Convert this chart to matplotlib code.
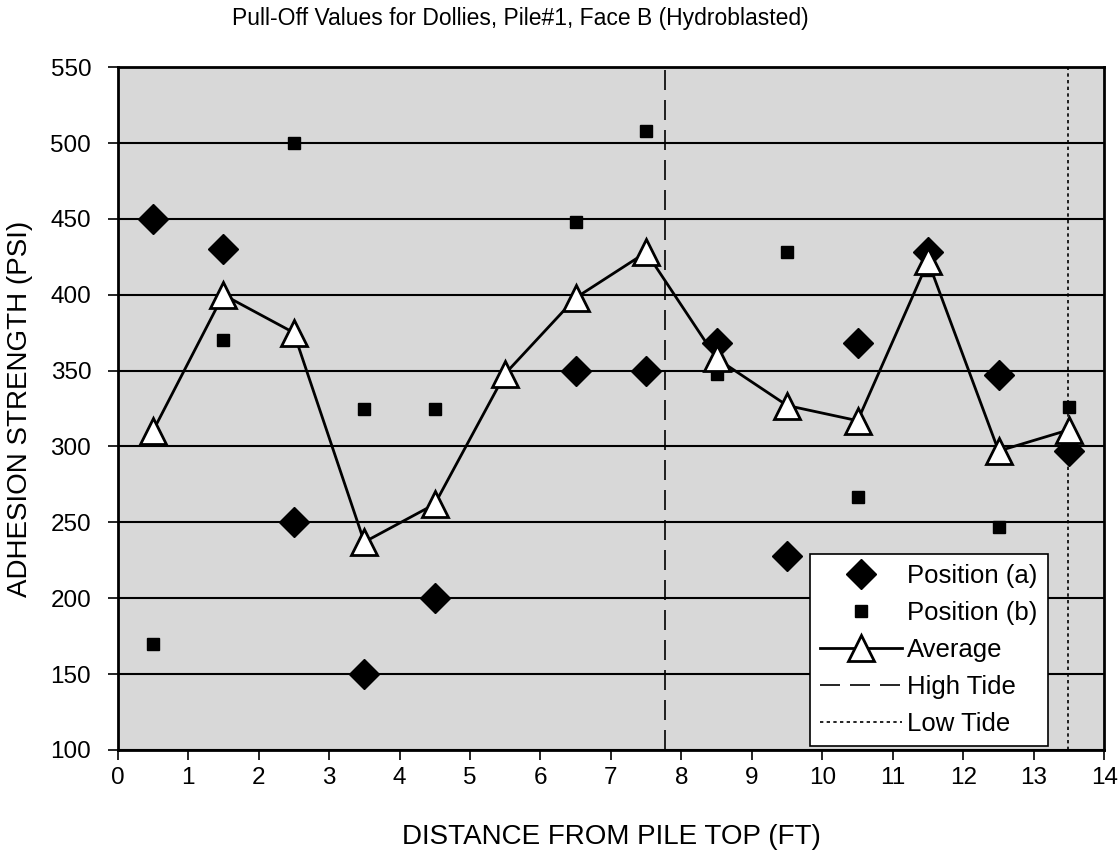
import numpy as np
import matplotlib
matplotlib.use("Agg")
import matplotlib.pyplot as plt

plt.rcParams['font.family'] = ['Liberation Sans', 'DejaVu Sans']

# distance from pile top (ft)
distance = [0.5, 1.5, 2.5, 3.5, 4.5, 5.5, 6.5, 7.5, 8.5, 9.5, 10.5, 11.5, 12.5, 13.5]
pos_a = [450, 430, 250, 150, 200, np.nan, 350, 350, 368, 228, 368, 428, 347, 297]
pos_b = [170, 370, 500, 325, 325, np.nan, 448, 508, 348, 428, 267, 416, 247, 326]
average = [310, 400, 375, 237, 262, 348, 398, 428, 358, 327, 317, 422, 297, 311]
high_tide = 7.76
low_tide = 13.48

fig = plt.figure(figsize=(11.2, 8.61), dpi=100)
ax = fig.add_axes([0.105, 0.129, 0.881, 0.793])
ax.set_facecolor("#d8d8d8")

ax.plot(distance, pos_a, linestyle="none", marker="D", ms=15, color="black",
        label="Position (a)", zorder=3)
ax.plot(distance, pos_b, linestyle="none", marker="s", ms=8, color="black",
        label="Position (b)", zorder=3)
ax.plot(distance, average, color="black", lw=2, marker="^", ms=19,
        mfc="white", mec="black", mew=2, label="Average", zorder=4)
ax.axvline(high_tide, color="black", lw=1.2, linestyle=(0, (12, 6)),
           label="High Tide", zorder=2)
ax.axvline(low_tide, color="black", lw=1.2, linestyle=(0, (2, 2)),
           label="Low Tide", zorder=2)

ax.set_xlim(0, 14)
ax.set_ylim(100, 550)
ax.set_xticks(range(0, 15))
ax.set_yticks(range(100, 551, 50))
ax.yaxis.grid(True, color="black", lw=1.5)
ax.set_axisbelow(True)
ax.tick_params(direction="out", length=7, width=1.2, labelsize=17.5)
ax.tick_params(axis="x", pad=5)
ax.tick_params(axis="y", pad=12)
for s in ax.spines.values():
    s.set_linewidth(2)

fig.text(0.465, 0.979, "Pull-Off Values for Dollies, Pile#1, Face B (Hydroblasted)",
         fontsize=16.5, ha="center", va="center")
ax.set_xlabel("DISTANCE FROM PILE TOP (FT)", fontsize=20)
ax.xaxis.set_label_coords(0.5, -0.108)
ax.set_ylabel("ADHESION STRENGTH (PSI)", fontsize=20)
ax.yaxis.set_label_coords(-0.086, 0.5)

leg = ax.legend(loc="lower right", bbox_to_anchor=(0.943, 0.006), fontsize=18.5,
                frameon=True, fancybox=False, edgecolor="black",
                framealpha=1, handlelength=3.2, borderpad=0.4,
                labelspacing=0.5, handletextpad=0.2, borderaxespad=0)
leg.get_frame().set_linewidth(1.2)

fig.savefig("out.png", dpi=100)
